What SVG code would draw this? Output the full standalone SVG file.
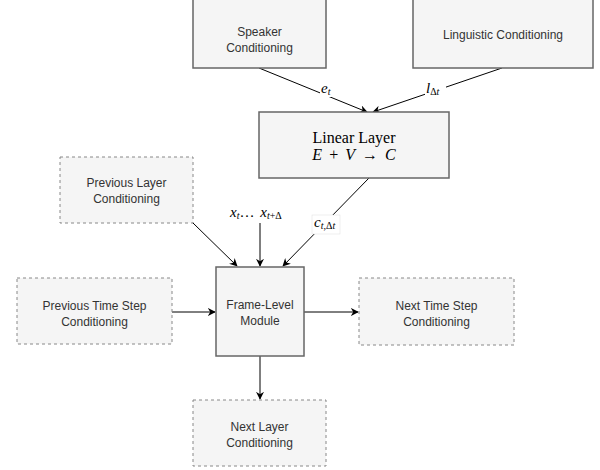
<svg xmlns="http://www.w3.org/2000/svg" width="600" height="470" viewBox="0 0 600 470">
<style>
.box{fill:#f5f5f5;stroke:#666;stroke-width:1.5}
.dbox{fill:#f5f5f5;stroke:#888;stroke-width:1;stroke-dasharray:3 3}
.t{font-family:"Liberation Sans",Arial,sans-serif;font-size:12px;fill:#333;text-anchor:middle}
.m{font-family:"Liberation Serif","Times New Roman",serif;font-size:15px;fill:#000}
.big{font-size:16px;text-anchor:middle}
.mi{font-style:italic}
.s{font-size:10px}
.c{fill:none;stroke:#000;stroke-width:1}
.lbl{fill:#fff}
</style>
<defs>
<marker id="a" viewBox="0 0 10 10" refX="9" refY="5" markerWidth="8" markerHeight="8" markerUnits="userSpaceOnUse" orient="auto">
<path d="M0,0 L10,5 L0,10 L3,5 z" fill="#000"/>
</marker>
</defs>
<g id="connectors">
<path class="c" d="M259,68 L367,112" marker-end="url(#a)"/>
<path class="c" d="M502,68 L373,112" marker-end="url(#a)"/>
<path class="c" d="M369,178 L283,266" marker-end="url(#a)"/>
<path class="c" d="M193,223 L237,266" marker-end="url(#a)"/>
<path class="c" d="M260,223 L260,266" marker-end="url(#a)"/>
<path class="c" d="M172,312 L215,312" marker-end="url(#a)"/>
<path class="c" d="M304,312 L358,312" marker-end="url(#a)"/>
<path class="c" d="M260,356 L260,399" marker-end="url(#a)"/>
<rect class="lbl" x="320" y="81" width="14" height="16"/>
<text class="m" x="321" y="93"><tspan class="mi">e</tspan><tspan class="mi s" dy="2">t</tspan></text>
<rect class="lbl" x="425" y="80" width="21" height="18"/>
<text class="m" x="426" y="93"><tspan class="mi">l</tspan><tspan class="s" dy="2">Δ</tspan><tspan class="mi s">t</tspan></text>
<rect class="lbl" x="312" y="215" width="28" height="19" stroke="#ddd" stroke-width="0.5"/>
<text class="m" x="314" y="227"><tspan class="mi">c</tspan><tspan class="s" dy="2"><tspan class="mi">t</tspan>,Δ<tspan class="mi">t</tspan></tspan></text>
<text class="m" x="230" y="217" word-spacing="2"><tspan class="mi">x</tspan><tspan class="mi s" dy="2">t</tspan><tspan dy="-2">… </tspan><tspan class="mi">x</tspan><tspan class="s" dy="2"><tspan class="mi">t</tspan>+Δ</tspan></text>
</g>
<g id="speaker">
<rect class="box" x="193" y="-1" width="133" height="69"/>
<text class="t" x="259.5" y="36">Speaker</text>
<text class="t" x="259.5" y="52">Conditioning</text>
</g>
<g id="linguistic">
<rect class="box" x="413" y="-1" width="180" height="69"/>
<text class="t" x="503" y="39">Linguistic Conditioning</text>
</g>
<g id="linear">
<rect class="box" x="259" y="112" width="190" height="66"/>
<text class="m big" x="354" y="143">Linear Layer</text>
<text class="m big" x="354" y="160" word-spacing="3"><tspan class="mi">E</tspan> + <tspan class="mi">V</tspan> → <tspan class="mi">C</tspan></text>
</g>
<g id="prevlayer">
<rect class="dbox" x="60" y="157" width="133" height="66"/>
<text class="t" x="126.5" y="187">Previous Layer</text>
<text class="t" x="126.5" y="203">Conditioning</text>
</g>
<g id="prevtime">
<rect class="dbox" x="17" y="278" width="155" height="66"/>
<text class="t" x="94.5" y="310">Previous Time Step</text>
<text class="t" x="94.5" y="326">Conditioning</text>
</g>
<g id="frame">
<rect class="box" x="216" y="267" width="88" height="89"/>
<text class="t" x="260" y="309">Frame-Level</text>
<text class="t" x="260" y="325">Module</text>
</g>
<g id="nexttime">
<rect class="dbox" x="359" y="278" width="155" height="67"/>
<text class="t" x="436.5" y="310">Next Time Step</text>
<text class="t" x="436.5" y="326">Conditioning</text>
</g>
<g id="nextlayer">
<rect class="dbox" x="193" y="400" width="133" height="66"/>
<text class="t" x="259.5" y="431">Next Layer</text>
<text class="t" x="259.5" y="447">Conditioning</text>
</g>
</svg>
